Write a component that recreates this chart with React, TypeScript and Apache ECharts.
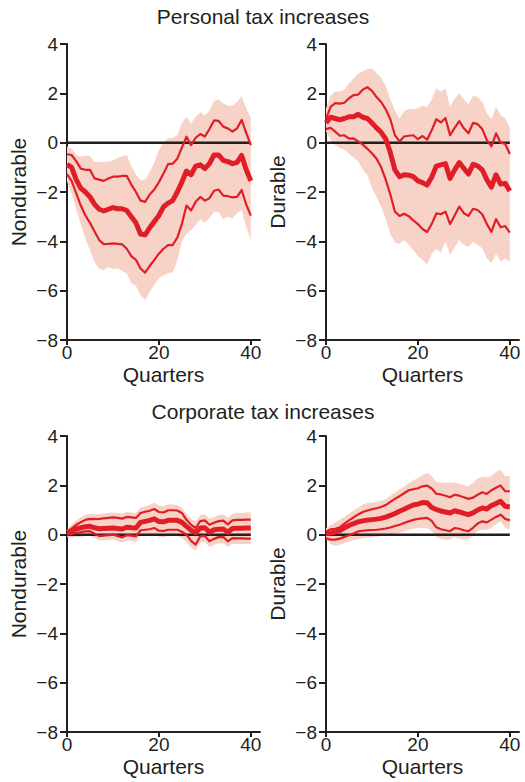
import { useEffect, useRef } from "react";
import * as echarts from "echarts";

// Quarters after the shock
const quarters = Array.from({ length: 41 }, (_, i) => i);

// Personal tax increases — nondurable consumption
const persNondurBandHi = [-0.16,-0.25,-0.5,-0.57,-0.52,-0.55,-0.78,-0.78,-0.77,-0.77,-0.72,-0.62,-0.55,-0.5,-0.95,-1.3,-1.51,-1.5,-1.2,-0.8,-0.3,0.0,0.18,0.2,0.3,0.8,1.05,0.78,1.05,1.23,1.1,1.3,1.7,1.75,1.6,1.5,1.5,1.66,1.89,1.4,0.99];
const persNondurHi = [-0.47,-0.5,-0.75,-1.05,-1.1,-1.1,-1.45,-1.5,-1.55,-1.45,-1.38,-1.38,-1.35,-1.35,-1.7,-2.0,-2.35,-2.4,-2.1,-1.9,-1.6,-1.25,-0.87,-0.85,-0.65,-0.2,0.24,-0.1,0.2,0.35,0.25,0.55,0.9,0.88,0.65,0.58,0.45,0.58,0.92,0.4,-0.1];
const persNondurMid = [-0.88,-1.0,-1.5,-1.85,-2.0,-2.2,-2.5,-2.7,-2.77,-2.7,-2.63,-2.68,-2.68,-2.75,-3.0,-3.25,-3.7,-3.74,-3.45,-3.2,-2.95,-2.6,-2.45,-2.35,-2.0,-1.6,-1.15,-1.3,-0.95,-0.9,-1.05,-0.85,-0.5,-0.5,-0.72,-0.77,-0.85,-0.8,-0.52,-1.1,-1.55];
const persNondurLo = [-1.28,-1.55,-2.05,-2.55,-2.95,-3.25,-3.6,-3.95,-4.11,-4.1,-4.08,-4.1,-4.12,-4.3,-4.6,-4.75,-5.1,-5.27,-5.0,-4.75,-4.5,-4.3,-4.15,-4.15,-3.85,-3.3,-2.55,-2.75,-2.4,-2.2,-2.35,-2.25,-1.95,-1.9,-2.15,-2.17,-2.22,-2.2,-1.92,-2.5,-2.96];
const persNondurBandLo = [-1.57,-2.05,-2.7,-3.3,-3.9,-4.35,-4.85,-5.12,-5.17,-5.04,-5.12,-5.1,-5.2,-5.3,-5.7,-5.8,-6.2,-6.38,-6.05,-5.75,-5.5,-5.37,-5.3,-5.25,-4.8,-4.0,-3.7,-3.55,-3.34,-3.1,-3.25,-3.05,-2.8,-2.8,-3.1,-3.0,-3.07,-2.85,-2.74,-3.4,-3.95];

// Personal tax increases — durable consumption
const persDurBandHi = [1.4,1.9,2.07,2.07,2.15,2.4,2.6,2.8,2.9,2.98,3.01,2.82,2.63,2.3,1.75,1.3,0.99,1.26,1.38,1.35,1.4,1.5,1.45,1.75,2.2,2.07,2.2,1.46,1.78,2.0,1.76,1.55,1.9,1.86,1.65,1.2,0.95,1.46,1.12,0.99,0.58];
const persDurHi = [0.95,1.45,1.6,1.58,1.62,1.8,1.93,1.95,2.15,2.25,2.1,1.85,1.65,1.35,0.95,0.3,0.05,0.25,0.28,0.3,0.14,0.27,0.12,0.5,0.95,0.82,1.0,0.3,0.6,0.87,0.58,0.38,0.8,0.75,0.55,0.1,-0.15,0.38,0.0,-0.05,-0.46];
const persDurMid = [0.8,1.03,0.98,0.93,0.98,1.05,1.05,1.15,1.03,0.98,0.8,0.6,0.42,0.15,-0.4,-1.1,-1.38,-1.3,-1.32,-1.38,-1.55,-1.62,-1.72,-1.4,-0.95,-0.9,-0.85,-1.45,-1.1,-0.81,-1.04,-1.27,-0.88,-0.94,-1.1,-1.5,-1.8,-1.3,-1.68,-1.65,-1.96];
const persDurLo = [0.55,0.6,0.45,0.28,0.3,0.16,0.17,0.05,-0.08,-0.25,-0.43,-0.65,-1.0,-1.5,-2.1,-2.8,-2.97,-2.88,-2.98,-3.15,-3.3,-3.5,-3.62,-3.3,-2.87,-2.9,-2.8,-3.3,-2.95,-2.59,-2.86,-2.97,-2.68,-2.73,-2.9,-3.3,-3.62,-3.1,-3.43,-3.38,-3.65];
const persDurBandLo = [0.45,0.12,-0.09,-0.22,-0.28,-0.45,-0.6,-0.75,-1.1,-1.31,-1.85,-2.2,-2.6,-3.1,-3.7,-4.05,-4.1,-3.95,-4.15,-4.35,-4.6,-4.75,-4.95,-4.5,-4.3,-4.45,-4.0,-4.55,-4.25,-3.95,-4.15,-4.22,-4.02,-4.15,-4.28,-4.7,-4.89,-4.5,-4.83,-4.69,-4.83];

// Corporate tax increases — nondurable consumption
const corpNondurBandHi = [0.2,0.4,0.58,0.7,0.8,0.85,0.83,0.84,0.86,0.88,0.9,0.88,0.86,0.92,0.9,0.88,1.1,1.15,1.2,1.3,1.18,1.15,1.22,1.22,1.2,1.1,0.85,0.65,0.52,0.8,0.82,0.65,0.72,0.8,0.82,0.68,0.85,0.88,0.88,0.9,0.9];
const corpNondurHi = [0.12,0.25,0.4,0.5,0.6,0.64,0.63,0.64,0.66,0.68,0.7,0.68,0.65,0.72,0.7,0.68,0.88,0.93,0.97,1.04,0.92,0.9,0.99,0.99,0.98,0.88,0.6,0.4,0.27,0.55,0.58,0.4,0.48,0.55,0.57,0.42,0.58,0.6,0.6,0.61,0.61];
const corpNondurMid = [0.08,0.15,0.24,0.28,0.32,0.34,0.28,0.24,0.25,0.26,0.27,0.25,0.23,0.3,0.28,0.27,0.5,0.54,0.58,0.64,0.53,0.52,0.58,0.58,0.58,0.5,0.34,0.18,0.08,0.27,0.28,0.1,0.2,0.22,0.23,0.1,0.25,0.26,0.26,0.27,0.27];
const corpNondurLo = [0.0,0.03,0.07,0.1,0.13,0.14,0.04,-0.06,-0.04,-0.02,0.0,-0.05,-0.11,-0.02,-0.04,-0.07,0.18,0.2,0.22,0.27,0.16,0.15,0.2,0.2,0.2,0.12,0.0,-0.25,-0.4,-0.07,-0.05,-0.27,-0.17,-0.1,-0.09,-0.27,-0.14,-0.15,-0.15,-0.16,-0.16];
const corpNondurBandLo = [-0.08,-0.1,-0.1,-0.08,-0.05,-0.04,-0.14,-0.24,-0.23,-0.22,-0.2,-0.26,-0.32,-0.24,-0.26,-0.3,-0.05,-0.03,0.0,0.05,-0.08,-0.1,-0.04,-0.05,-0.06,-0.14,-0.3,-0.52,-0.65,-0.32,-0.3,-0.5,-0.42,-0.36,-0.35,-0.5,-0.38,-0.38,-0.38,-0.38,-0.38];

// Corporate tax increases — durable consumption
const corpDurBandHi = [0.27,0.38,0.48,0.6,0.72,0.85,0.98,1.1,1.22,1.28,1.3,1.33,1.37,1.45,1.58,1.7,1.83,1.95,2.08,2.2,2.3,2.4,2.52,2.38,2.15,2.1,2.1,2.1,2.12,2.05,2.0,1.96,2.1,2.28,2.36,2.32,2.38,2.55,2.63,2.38,2.38];
const corpDurHi = [0.12,0.22,0.24,0.3,0.45,0.58,0.7,0.82,0.92,0.98,1.03,1.07,1.12,1.2,1.33,1.45,1.56,1.68,1.8,1.84,1.88,1.96,1.99,1.87,1.66,1.63,1.58,1.52,1.62,1.58,1.52,1.45,1.5,1.62,1.72,1.65,1.8,1.9,1.99,1.76,1.76];
const corpDurMid = [0.04,0.07,0.1,0.17,0.28,0.37,0.45,0.52,0.56,0.59,0.61,0.63,0.66,0.71,0.78,0.86,0.95,1.03,1.12,1.2,1.24,1.3,1.29,1.1,1.02,0.96,0.92,0.88,0.97,0.92,0.86,0.81,0.88,1.0,1.08,1.04,1.18,1.26,1.35,1.15,1.12];
const corpDurLo = [-0.15,-0.2,-0.2,-0.16,-0.09,-0.02,0.05,0.13,0.16,0.18,0.19,0.2,0.22,0.25,0.29,0.35,0.4,0.47,0.54,0.6,0.64,0.66,0.68,0.56,0.3,0.22,0.18,0.14,0.27,0.24,0.18,0.14,0.28,0.45,0.54,0.5,0.61,0.72,0.81,0.64,0.58];
const corpDurBandLo = [-0.14,-0.38,-0.45,-0.41,-0.35,-0.28,-0.22,-0.18,-0.15,-0.12,-0.1,-0.08,-0.05,-0.03,0.0,0.04,0.08,0.13,0.2,0.24,0.27,0.27,0.26,0.14,-0.1,-0.18,-0.22,-0.2,-0.1,-0.16,-0.2,-0.2,-0.02,0.15,0.2,0.2,0.28,0.42,0.54,0.27,0.2];

const yTicks = [-8, -6, -4, -2, 0, 2, 4];
const xTicks = [0, 20, 40];
const panelTitles = ["Personal tax increases", "Corporate tax increases"];

const FONT = '"Liberation Sans", Arial, Helvetica, sans-serif';
const INK = "#231f20";
const RED = "#e01e27";
const BAND = "#f6d3c6";

type Panel = {
  name: string;
  left: number;
  top: number;
  bandHi: number[];
  hi: number[];
  mid: number[];
  lo: number[];
  bandLo: number[];
};

const panels: Panel[] = [
  { name: "Nondurable", left: 67, top: 44, bandHi: persNondurBandHi, hi: persNondurHi, mid: persNondurMid, lo: persNondurLo, bandLo: persNondurBandLo },
  { name: "Durable", left: 326, top: 44, bandHi: persDurBandHi, hi: persDurHi, mid: persDurMid, lo: persDurLo, bandLo: persDurBandLo },
  { name: "Nondurable", left: 67, top: 436, bandHi: corpNondurBandHi, hi: corpNondurHi, mid: corpNondurMid, lo: corpNondurLo, bandLo: corpNondurBandLo },
  { name: "Durable", left: 326, top: 436, bandHi: corpDurBandHi, hi: corpDurHi, mid: corpDurMid, lo: corpDurLo, bandLo: corpDurBandLo },
];

const pairs = (vals: number[]) => quarters.map((q, i) => [q, vals[i]]);
const fmtY = (v: number) => (v < 0 ? "\u2212" + Math.abs(v) : String(v));

function buildOption() {
  const grid: any[] = [];
  const xAxis: any[] = [];
  const yAxis: any[] = [];
  const series: any[] = [];

  panels.forEach((p, i) => {
    grid.push({ left: p.left, top: p.top, width: 193, height: 296, containLabel: false });
    xAxis.push({
      type: "value",
      gridIndex: i,
      min: 0,
      max: 42,
      interval: 20,
      name: "Quarters",
      nameLocation: "middle",
      nameGap: 24,
      nameTextStyle: { fontFamily: FONT, fontSize: 21, color: INK },
      axisLine: { onZero: false, lineStyle: { color: INK, width: 2 } },
      axisTick: { show: true, length: 5, customValues: xTicks, lineStyle: { color: INK, width: 2 } },
      axisLabel: {
        customValues: xTicks,
        margin: 3,
        fontFamily: FONT,
        fontSize: 19,
        color: INK,
        formatter: (v: number) => (xTicks.includes(v) ? String(v) : ""),
      },
      splitLine: { show: false },
    });
    yAxis.push({
      type: "value",
      gridIndex: i,
      min: -8,
      max: 4,
      interval: 2,
      name: p.name,
      nameLocation: "middle",
      nameGap: 38,
      nameTextStyle: { fontFamily: FONT, fontSize: 21, color: INK },
      axisLine: { show: true, onZero: false, lineStyle: { color: INK, width: 2 } },
      axisTick: { show: true, length: 7, lineStyle: { color: INK, width: 2 } },
      axisLabel: {
        margin: 9,
        fontFamily: FONT,
        fontSize: 19,
        color: INK,
        formatter: (v: number) => (yTicks.includes(v) ? fmtY(v) : ""),
      },
      splitLine: { show: false },
    });

    // shaded outer band, drawn as a polygon in data coordinates
    series.push({
      type: "custom",
      xAxisIndex: i,
      yAxisIndex: i,
      silent: true,
      z: 1,
      dimensions: ["x", "y"],
      encode: { x: 0, y: 1 },
      data: [[0, 0]],
      renderItem: (_params: any, api: any) => {
        const pts: number[][] = [];
        quarters.forEach((q, k) => pts.push(api.coord([q, p.bandHi[k]])));
        for (let k = quarters.length - 1; k >= 0; k--) pts.push(api.coord([quarters[k], p.bandLo[k]]));
        return { type: "polygon", shape: { points: pts }, style: { fill: BAND } };
      },
    });

    // zero reference line
    series.push({
      type: "line",
      xAxisIndex: i,
      yAxisIndex: i,
      data: [[0, 0], [40, 0]],
      symbol: "none",
      silent: true,
      z: 2,
      lineStyle: { color: INK, width: 2.5 },
    });

    const thin = (vals: number[]) => ({
      type: "line",
      xAxisIndex: i,
      yAxisIndex: i,
      data: pairs(vals),
      symbol: "none",
      silent: true,
      z: 3,
      lineStyle: { color: RED, width: 2.2, join: "round" },
    });
    series.push(thin(p.hi));
    series.push(thin(p.lo));
    series.push({
      type: "line",
      xAxisIndex: i,
      yAxisIndex: i,
      data: pairs(p.mid),
      symbol: "none",
      silent: true,
      z: 4,
      lineStyle: { color: RED, width: 5, join: "round" },
    });
  });

  const titleY = [16, 411];
  const graphic = panelTitles.map((t, k) => ({
    type: "text",
    x: 263,
    y: titleY[k],
    silent: true,
    style: { text: t, fill: INK, font: `21px ${FONT}`, align: "center", verticalAlign: "middle" },
  }));

  return {
    animation: false,
    backgroundColor: "#ffffff",
    grid,
    xAxis,
    yAxis,
    series,
    graphic,
  };
}

export default function App() {
  const ref = useRef<HTMLDivElement>(null);
  useEffect(() => {
    if (!ref.current) return;
    const chart = echarts.init(ref.current, undefined, { renderer: "svg" });
    chart.setOption(buildOption() as any);
    return () => chart.dispose();
  }, []);
  return (
    <div
      ref={ref}
      style={{ position: "fixed", left: 0, top: 0, width: 525, height: 782, background: "#fff" }}
    />
  );
}
